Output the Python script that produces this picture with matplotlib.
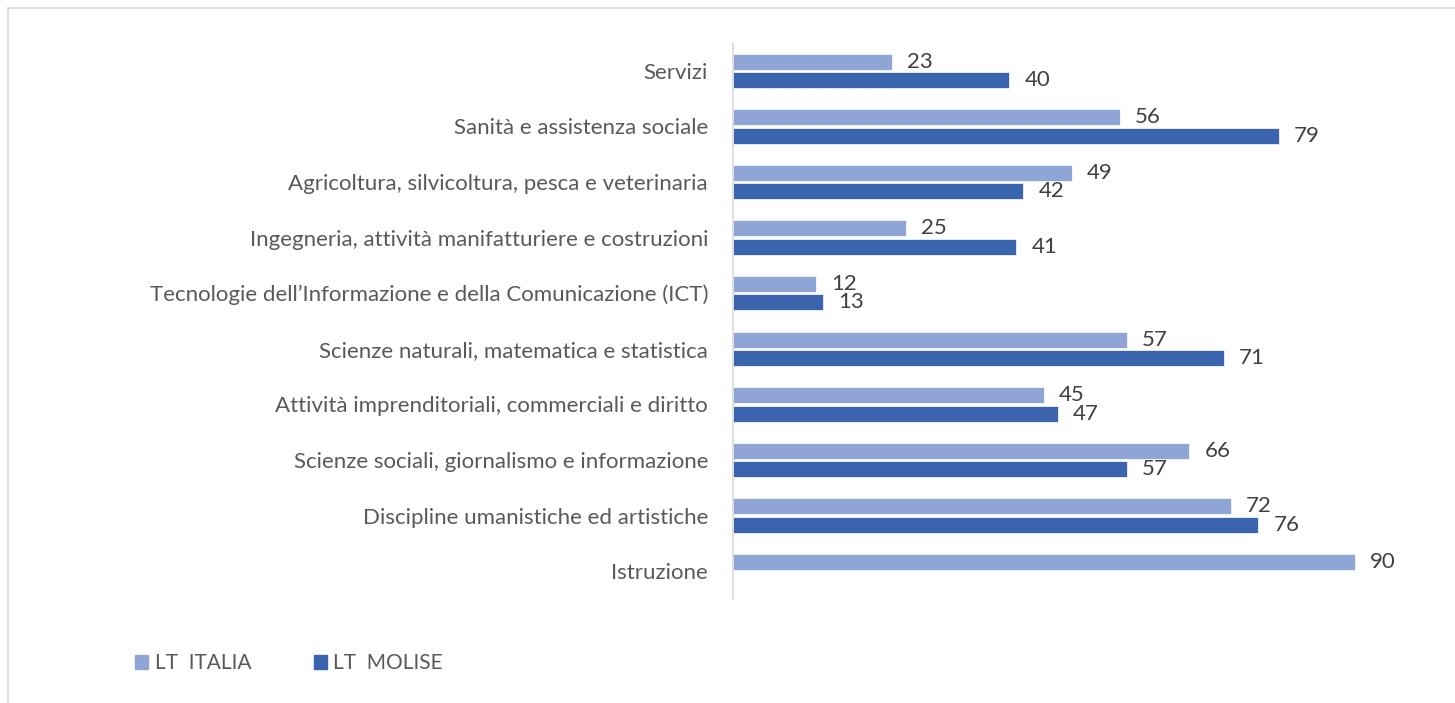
import matplotlib
matplotlib.use("Agg")
import matplotlib.pyplot as plt
from matplotlib.patches import Rectangle
import numpy as np

categories = [
    "Servizi",
    "Sanità e assistenza sociale",
    "Agricoltura, silvicoltura, pesca e veterinaria",
    "Ingegneria, attività manifatturiere e costruzioni",
    "Tecnologie dell’Informazione e della Comunicazione (ICT)",
    "Scienze naturali, matematica e statistica",
    "Attività imprenditoriali, commerciali e diritto",
    "Scienze sociali, giornalismo e informazione",
    "Discipline umanistiche ed artistiche",
    "Istruzione",
]
italia = [23, 56, 49, 25, 12, 57, 45, 66, 72, 90]
molise = [40, 79, 42, 41, 13, 71, 47, 57, 76, None]
series_names = ["LT  ITALIA", "LT  MOLISE"]

c_it = "#8FA5D6"
c_mo = "#3A64AE"
txt = "#595959"
font = "Lato"
fs = 16

W, H = 1455, 703
fig = plt.figure(figsize=(W / 100, H / 100), dpi=100)

# frame
fig.patches.append(Rectangle((8 / W, -0.01), 1.5, (H - 8) / H + 0.01, transform=fig.transFigure,
                             fill=False, edgecolor="#D9D9D9", linewidth=1.2))

left, right, top, bottom = 733, 1424, 43, 599
ax = fig.add_axes([left / W, 1 - bottom / H, (right - left) / W, (bottom - top) / H])

n = len(categories)
y = np.arange(n)
bh = 0.29
off = 0.165

for i in range(n):
    v = italia[i]
    if v is not None:
        ax.barh(y[i] - off, v, height=bh, color=c_it, edgecolor="white", linewidth=0.5)
        ax.annotate(str(v), (v, y[i] - off), xytext=(11, 0), textcoords="offset points",
                    va="center", ha="left", fontsize=fs, color="#404040", family=font)
    v = molise[i]
    if v is not None:
        ax.barh(y[i] + off, v, height=bh, color=c_mo, edgecolor="white", linewidth=0.5)
        ax.annotate(str(v), (v, y[i] + off), xytext=(11, 0), textcoords="offset points",
                    va="center", ha="left", fontsize=fs, color="#404040", family=font)

ax.set_ylim(n - 0.5, -0.5)
ax.set_xlim(0, 100)
ax.set_yticks(y)
ax.set_yticklabels(categories, fontsize=fs, color=txt, family=font)
ax.tick_params(axis="y", length=0, pad=18)
ax.set_xticks([])
for s in ["top", "right", "bottom"]:
    ax.spines[s].set_visible(False)
ax.spines["left"].set_color("#D9D9D9")
ax.spines["left"].set_linewidth(1.2)

# legend
handles = [Rectangle((0, 0), 1, 1, color=c_it), Rectangle((0, 0), 1, 1, color=c_mo)]
fig.legend(handles, series_names, loc="center left", bbox_to_anchor=(116 / W, 1 - 663 / H),
           ncol=2, frameon=False, handlelength=0.65, handleheight=0.65,
           handletextpad=0.3, columnspacing=3.0, labelcolor=txt, prop={"family": font, "size": 15})

fig.savefig("out.png", dpi=100)
